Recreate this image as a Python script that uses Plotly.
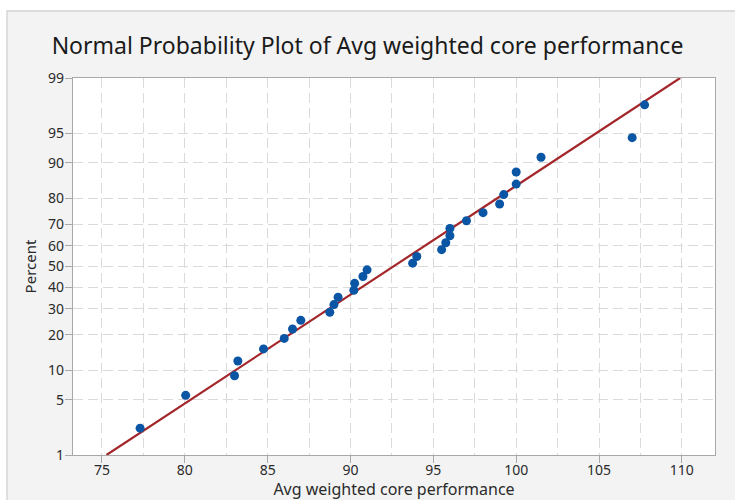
from statistics import NormalDist, mean, stdev
import plotly.graph_objects as go

# Observed scores (sorted)
scores = [77.3, 80.05, 83.0, 83.2, 84.75, 86.0, 86.5, 87.0, 88.75, 89.0,
          89.25, 90.2, 90.25, 90.75, 91.0, 93.75, 94.0, 95.5, 95.75, 96.0,
          96.0, 97.0, 98.0, 99.0, 99.25, 100.0, 100.0, 101.5, 107.0, 107.75]
percent_ticks = [1, 5, 10, 20, 30, 40, 50, 60, 70, 80, 90, 95, 99]
x_ticks = [75, 80, 85, 90, 95, 100, 105, 110]

nd = NormalDist()
n = len(scores)
# median-rank plotting positions, drawn on the normal-quantile scale
ranks = [(i + 1 - 0.3) / (n + 0.4) for i in range(n)]
z_pts = [nd.inv_cdf(p) for p in ranks]

mu, sd = mean(scores), stdev(scores)
z_lo, z_hi = nd.inv_cdf(0.01), nd.inv_cdf(0.99)
fit_x = [mu + sd * z_lo, mu + sd * z_hi]
fit_z = [z_lo, z_hi]

fig = go.Figure()
fig.add_trace(go.Scatter(x=fit_x, y=fit_z, mode="lines",
                         line=dict(color="#a3262a", width=2.2),
                         hoverinfo="skip"))
fig.add_trace(go.Scatter(x=scores, y=z_pts, mode="markers",
                         marker=dict(color="#0b55a5", size=9)))

grid = dict(showgrid=True, gridcolor="#dadada", gridwidth=1.3, griddash="10px,5px")
axis_common = dict(showline=True, linecolor="#a8a8a8", linewidth=1.3, mirror=True,
                   ticks="outside", ticklen=7, tickcolor="#a8a8a8", tickwidth=1.3,
                   zeroline=False, automargin=False,
                   tickfont=dict(family="Noto Sans", size=14, color="#2a2a2a"))

fig.update_xaxes(range=[73.25, 112.0], tickvals=x_ticks, ticktext=[str(v) for v in x_ticks],
                 ticklabelstandoff=-5,
                 title=dict(text="Avg weighted core performance", standoff=1,
                            font=dict(family="Noto Sans", size=16, color="#2a2a2a")),
                 minor=dict(dtick=2.5, tick0=75, showgrid=True, gridcolor="#dadada",
                            gridwidth=1.3, griddash="10px,5px", ticks=""),
                 **grid, **axis_common)
fig.update_yaxes(range=[z_lo, z_hi],
                 tickvals=[nd.inv_cdf(p / 100) for p in percent_ticks],
                 ticktext=[str(p) for p in percent_ticks],
                 ticklabelstandoff=-2,
                 title=dict(text="Percent", standoff=7,
                            font=dict(family="Noto Sans", size=15, color="#2a2a2a")),
                 **grid, **axis_common)

# outer framed panel and white plotting area
fig.add_shape(type="rect", xref="paper", yref="paper", x0=-0.1028, x1=1.05, y0=-0.14, y1=1.1777,
              fillcolor="#f3f3f3", line=dict(color="#d2d2d2", width=1.3), layer="below")
fig.add_shape(type="rect", xref="paper", yref="paper", x0=0, x1=1, y0=0, y1=1,
              fillcolor="white", line=dict(width=0), layer="below")

fig.update_layout(
    width=735, height=500,
    margin=dict(l=73, r=20, t=78, b=45),
    paper_bgcolor="white", plot_bgcolor="white",
    showlegend=False,
    title=dict(text="Normal Probability Plot of Avg weighted core performance",
               x=0.5, xref="container", xanchor="center", y=0.908, yanchor="middle",
               font=dict(family="Noto Sans", size=23, color="#1a1a1a")),
)

fig.write_html("out.html")
